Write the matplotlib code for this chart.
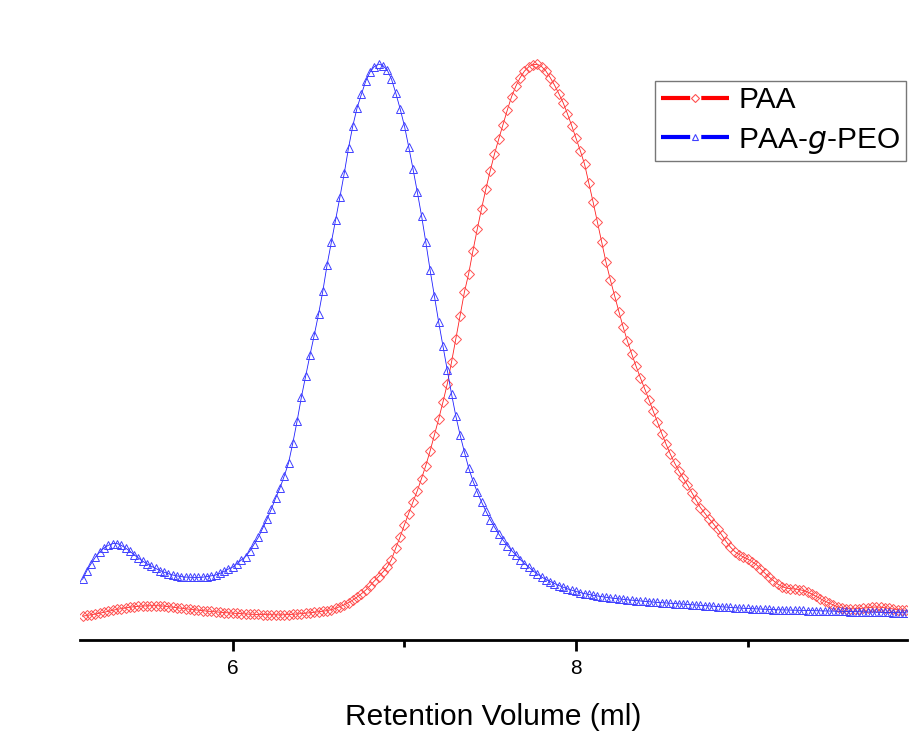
import numpy as np
import matplotlib
matplotlib.use("Agg")
import matplotlib.pyplot as plt
from matplotlib.lines import Line2D

plt.rcParams["font.family"] = ["Liberation Sans", "DejaVu Sans"]
plt.rcParams["lines.scale_dashes"] = False

# GPC traces sampled every 0.025 ml starting at 5.125 ml (detector signal, a.u.)
volume_start = 5.125
volume_step = 0.025

paa_signal = [
    23.8, 24.5, 25.3, 26.0, 26.8, 27.7, 28.7, 29.7, 30.6, 31.4,
    32.1, 32.8, 33.3, 33.7, 34.0, 34.2, 34.3, 34.3, 34.2, 33.9,
    33.4, 32.8, 32.2, 31.7, 31.2, 30.7, 30.2, 29.7, 29.3, 28.9,
    28.5, 28.1, 27.7, 27.4, 27.1, 26.8, 26.6, 26.4, 26.0, 25.8,
    25.6, 25.5, 25.4, 25.3, 25.2, 25.1, 25.1, 25.2, 25.4, 25.7,
    26.0, 26.4, 26.8, 27.2, 27.7, 28.2, 28.8, 29.4, 30.4, 31.7,
    33.4, 35.2, 37.4, 40.0, 43.0, 46.3, 50.0, 54.3, 59.0, 63.5,
    68.0, 73.0, 80.5, 92.0, 103.0, 115.0, 126.5, 138.0, 149.0, 161.5,
    174.5, 189.0, 205.0, 221.0, 238.0, 256.0, 278.0, 301.0, 324.5, 348.0,
    366.5, 389.5, 411.0, 431.5, 451.0, 469.0, 486.0, 501.0, 515.5, 530.0,
    543.5, 554.0, 562.5, 569.0, 573.3, 575.5, 575.7, 573.5, 569.0, 562.5,
    555.0, 546.5, 537.5, 526.5, 514.5, 502.0, 489.5, 476.0, 457.0, 438.0,
    418.0, 398.0, 378.0, 360.5, 344.5, 328.5, 313.0, 299.0, 286.0, 274.0,
    262.5, 251.5, 240.5, 229.0, 218.0, 206.5, 196.0, 186.0, 177.0, 169.0,
    162.0, 155.0, 147.5, 140.0, 132.5, 127.0, 121.5, 116.5, 111.0, 105.0,
    98.5, 93.0, 88.5, 85.5, 83.0, 81.0, 78.5, 75.5, 71.5, 67.0,
    63.0, 59.5, 56.0, 53.5, 52.0, 51.3, 51.0, 50.5, 49.5, 48.0,
    46.0, 43.5, 41.2, 39.0, 37.0, 35.0, 33.2, 32.0, 31.4, 31.2,
    31.2, 31.4, 31.8, 32.3, 32.8, 33.0, 32.8, 32.2, 31.5, 30.9,
    30.4, 30.0, 29.7,
]

peo_signal = [
    60.7, 69.5, 76.5, 83.0, 88.0, 92.0, 94.7, 96.4, 96.5, 94.7,
    92.0, 88.8, 85.2, 82.0, 78.8, 76.2, 73.8, 71.7, 69.5, 67.8,
    66.3, 65.0, 64.1, 63.4, 62.9, 62.7, 62.6, 62.6, 62.8, 63.4,
    64.2, 65.0, 66.6, 68.6, 71.0, 73.0, 76.5, 80.0, 83.5, 89.0,
    96.0, 103.0, 112.0, 121.0, 131.0, 142.0, 152.0, 164.0, 177.0, 197.0,
    219.0, 243.0, 264.0, 285.0, 305.0, 326.0, 349.0, 375.5, 398.0, 420.0,
    443.5, 467.0, 492.5, 514.5, 532.5, 546.0, 559.0, 568.0, 573.5, 576.0,
    574.5, 570.0, 561.0, 547.0, 531.5, 514.5, 493.5, 471.5, 448.5, 424.5,
    398.0, 370.0, 344.0, 318.0, 294.0, 270.0, 246.0, 224.0, 205.0, 188.0,
    172.0, 159.0, 148.0, 138.0, 129.0, 120.5, 113.0, 106.0, 100.0, 94.5,
    89.5, 85.0, 80.5, 76.5, 73.0, 69.0, 66.0, 63.0, 60.5, 58.5,
    56.5, 54.5, 52.8, 51.2, 49.8, 48.5, 47.4, 46.4, 45.5, 44.7,
    44.0, 43.3, 42.7, 42.1, 41.6, 41.1, 40.6, 40.2, 39.8, 39.4,
    39.0, 38.6, 38.2, 37.9, 37.6, 37.3, 37.0, 36.7, 36.4, 36.1,
    35.8, 35.5, 35.2, 34.9, 34.6, 34.3, 34.0, 33.7, 33.4, 33.1,
    32.8, 32.5, 32.2, 32.0, 31.7, 31.5, 31.3, 31.1, 30.9, 30.7,
    30.5, 30.4, 30.2, 30.1, 30.0, 29.8, 29.7, 29.6, 29.5, 29.4,
    29.3, 29.2, 29.1, 29.0, 28.9, 28.8, 28.7, 28.6, 28.5, 28.4,
    28.3, 28.2, 28.1, 28.0, 27.9, 27.8, 27.7, 27.6, 27.5, 27.4,
    27.3, 27.2, 27.1,
]

series_labels = ["PAA", r"PAA-$\mathit{g}$-PEO"]
major_ticks = [6, 8]
minor_ticks = [7, 9]

volume = volume_start + volume_step * np.arange(len(paa_signal))

fig = plt.figure(figsize=(9.2, 7.38), dpi=100)
ax = fig.add_axes([0.087, 0.1328, 0.899, 0.840])

ax.plot(volume, paa_signal, color="#ff2020", lw=0.6, marker="D", ms=4.8,
        mfc="none", mec="#ff5050", mew=0.7, zorder=2)
ax.plot(volume, peo_signal, color="#2020ff", lw=0.6, marker="^", ms=5.2,
        mfc="none", mec="#4040ff", mew=0.7, zorder=3)

ax.set_xlim(5.11, 9.93)
ax.set_ylim(0, 620)

for side in ("top", "right", "left"):
    ax.spines[side].set_visible(False)
ax.spines["bottom"].set_linewidth(2.0)
ax.set_yticks([])
ax.set_xticks(major_ticks)
ax.set_xticks(minor_ticks, minor=True)
ax.tick_params(axis="x", which="major", direction="out", length=8, width=2,
               labelsize=15, pad=6)
ax.tick_params(axis="x", which="minor", direction="out", length=5, width=2)
ax.set_xlabel("Retention Volume (ml)", fontsize=21.5, labelpad=18)

handles = [
    Line2D([], [], color="red", lw=3, dashes=(21, 8), marker="D", ms=4,
           mfc="none", mec="#ff5050", mew=0.8),
    Line2D([], [], color="blue", lw=3, dashes=(21, 8), marker="^", ms=4.5,
           mfc="none", mec="#4040ff", mew=0.8),
]
leg = ax.legend(handles, series_labels, loc="upper right",
                bbox_to_anchor=(0.9985, 0.902), fontsize=21.5, numpoints=1,
                handlelength=2.3, handletextpad=0.3, labelspacing=0.38,
                borderpad=0.18, borderaxespad=0.0, frameon=True,
                fancybox=False, edgecolor="#555555")
leg.get_frame().set_linewidth(1.0)

fig.savefig("out.png", dpi=100, facecolor="white")
